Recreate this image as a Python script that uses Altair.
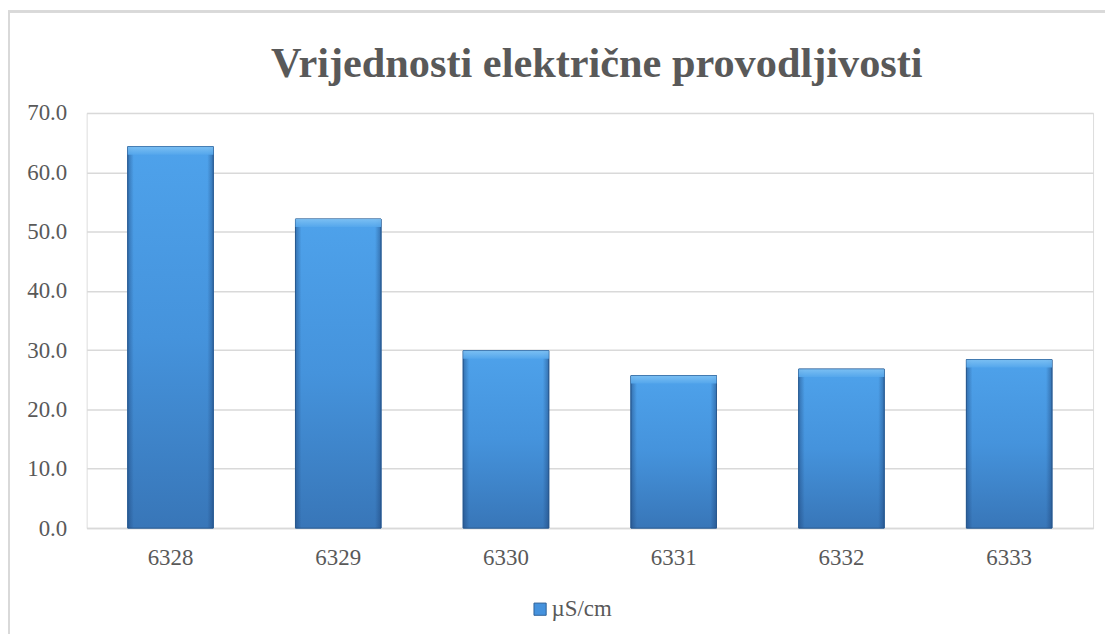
import altair as alt
import pandas as pd

stations = ["6328", "6329", "6330", "6331", "6332", "6333"]
values = [64.3, 52.1, 29.9, 25.7, 26.8, 28.4]
series_name = "µS/cm"
y_ticks = [0, 10, 20, 30, 40, 50, 60, 70]
title_text = "Vrijednosti električne provodljivosti"

df = pd.DataFrame({
    "station": stations,
    "value": values,
    "series": [series_name] * len(stations),
})
title_df = pd.DataFrame({"t": [title_text]})

W, H = 1011, 417
FONT = "Liberation Serif"
GRAY = "#595959"
GRID = "#d9d9d9"

x_enc = alt.X(
    "station:N", sort=stations,
    scale=alt.Scale(paddingInner=0.49, paddingOuter=0.245),
    axis=alt.Axis(title=None, labelAngle=0, labelFont=FONT, labelFontSize=23,
                  labelColor=GRAY, ticks=False, labelPadding=19,
                  domain=True, domainColor=GRID, domainWidth=1.5, grid=False),
)
y_enc = alt.Y(
    "value:Q",
    scale=alt.Scale(domain=[0, 70], nice=False),
    axis=alt.Axis(title=None, values=y_ticks, format=".1f", labelFont=FONT,
                  labelFontSize=23, labelColor=GRAY, ticks=False, labelPadding=20,
                  domain=False, grid=True, gridColor=GRID, gridWidth=1.5),
)

base = alt.Chart(df)

bars = base.mark_bar(stroke="#2e6299", strokeWidth=1).encode(
    x=x_enc, y=y_enc,
    color=alt.Color("series:N", scale=alt.Scale(domain=[series_name], range=["#4592dd"]),
                    legend=alt.Legend(title=None, orient="none", legendX=444, legendY=487,
                                      symbolType="square", symbolSize=150,
                                      symbolStrokeColor="#2e6299", symbolStrokeWidth=1,
                                      labelFont=FONT, labelFontSize=23, labelColor=GRAY,
                                      labelOffset=0, padding=0)),
)

vgrad = alt.Gradient(
    gradient="linear",
    stops=[alt.GradientStop(color="#4ea2eb", offset=0),
           alt.GradientStop(color="#4593dc", offset=0.5),
           alt.GradientStop(color="#3876b8", offset=1)],
    x1=0, x2=0, y1=0, y2=1,
)
fill_layer = base.mark_bar(color=vgrad, stroke="#2e6299", strokeWidth=1).encode(
    x=alt.X("station:N", sort=stations), y="value:Q"
)

hgrad = alt.Gradient(
    gradient="linear",
    stops=[alt.GradientStop(color="rgba(25,60,110,0.45)", offset=0),
           alt.GradientStop(color="rgba(25,60,110,0.0)", offset=0.07),
           alt.GradientStop(color="rgba(25,60,110,0.0)", offset=0.93),
           alt.GradientStop(color="rgba(25,60,110,0.45)", offset=1)],
    x1=0, x2=1, y1=0, y2=0,
)
edge_layer = base.mark_bar(color=hgrad).encode(
    x=alt.X("station:N", sort=stations), y="value:Q"
)

top_grad = alt.Gradient(
    gradient="linear",
    stops=[alt.GradientStop(color="#7fc2f4", offset=0),
           alt.GradientStop(color="#55a7ec", offset=1)],
    x1=0, x2=0, y1=0, y2=1,
)
top_layer = base.mark_bar(color=top_grad, y2Offset=8, opacity=0.9).encode(
    x=alt.X("station:N", sort=stations), y="value:Q", y2="value:Q"
)

border = base.mark_rect(fill=None, stroke=GRID, strokeWidth=2).encode(
    x=alt.value(-78), x2=alt.value(W + 40),
    y=alt.value(-102), y2=alt.value(H + 200),
)

title = alt.Chart(title_df).mark_text(
    font=FONT, fontSize=42.5, fontWeight="bold", color=GRAY,
    align="center", baseline="alphabetic",
).encode(text="t:N", x=alt.value(W / 2 + 7), y=alt.value(-36))

chart = alt.layer(border, bars, fill_layer, edge_layer, top_layer, title).properties(
    width=W, height=H,
    autosize=alt.AutoSizeParams(type="none"),
    padding={"left": 79, "top": 104, "right": 12, "bottom": 105},
).configure_view(stroke=None).configure(background="white")

chart.save("out.html", embed_options={"renderer": "svg", "actions": False})
